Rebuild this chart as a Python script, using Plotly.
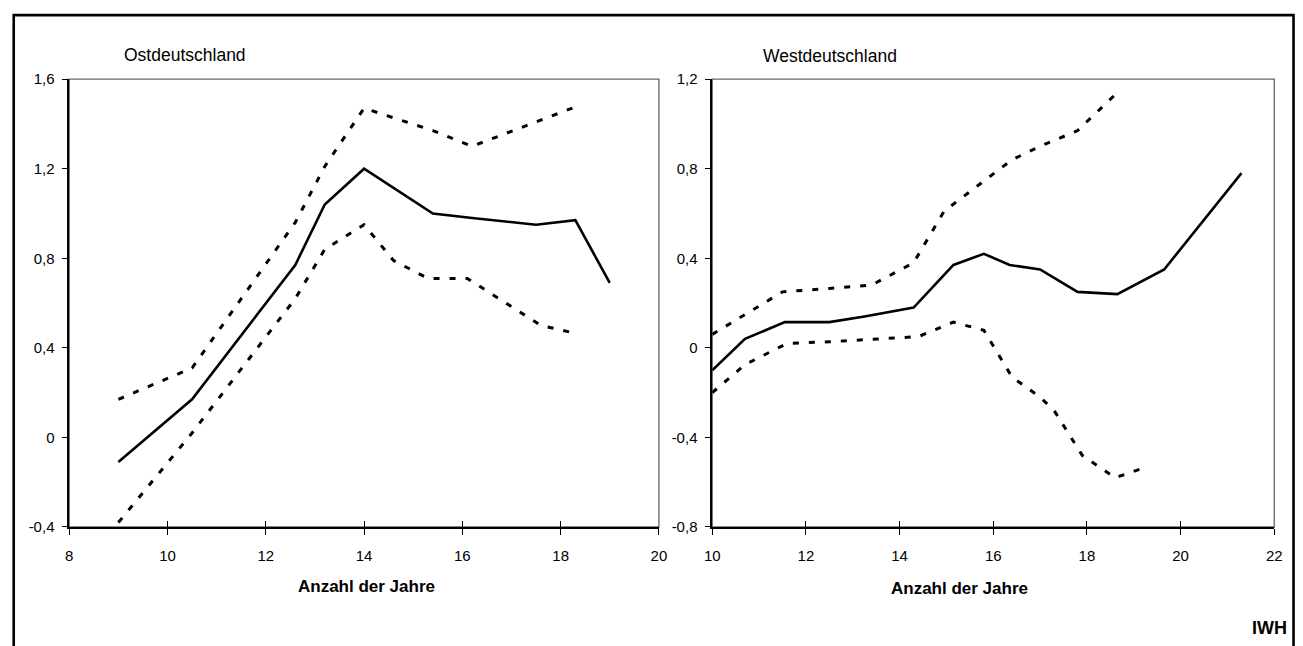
import plotly.graph_objects as go

# ---------------- data ----------------
east_x = [9, 10.5, 12.6, 13.2, 14, 15.4, 16.2, 17.5, 18.3, 19]
east_mid = [-0.11, 0.17, 0.77, 1.04, 1.20, 1.00, 0.98, 0.95, 0.97, 0.69]
east_up_x = [9, 10.5, 12.6, 13.2, 14, 15.4, 16.2, 17.5, 18.35]
east_up = [0.17, 0.31, 0.96, 1.21, 1.47, 1.37, 1.30, 1.41, 1.48]
east_lo_x = [9, 10.5, 12.6, 13.2, 14, 14.6, 15.3, 16.1, 17.6, 18.3]
east_lo = [-0.38, 0.02, 0.62, 0.84, 0.95, 0.79, 0.71, 0.71, 0.50, 0.465]

west_x = [10, 10.7, 11.55, 12.5, 13.25, 14.3, 15.15, 15.8, 16.35, 17.0, 17.8, 18.65, 19.65, 21.3]
west_mid = [-0.10, 0.04, 0.115, 0.115, 0.14, 0.18, 0.37, 0.42, 0.37, 0.35, 0.25, 0.24, 0.35, 0.78]
west_up_x = [10, 10.7, 11.5, 12.5, 13.4, 14.3, 14.95, 15.8, 16.4, 17.0, 17.8, 18.7]
west_up = [0.06, 0.15, 0.25, 0.265, 0.28, 0.38, 0.61, 0.745, 0.84, 0.90, 0.97, 1.15]
west_lo_x = [10, 10.7, 11.6, 12.5, 13.4, 14.4, 15.15, 15.8, 16.4, 17.0, 17.3, 17.9, 18.6, 19.3]
west_lo = [-0.20, -0.075, 0.02, 0.027, 0.038, 0.05, 0.115, 0.078, -0.13, -0.22, -0.28, -0.48, -0.58, -0.53]

east_yticks = [-0.4, 0, 0.4, 0.8, 1.2, 1.6]
east_ylabels = ["-0,4", "0", "0,4", "0,8", "1,2", "1,6"]
west_yticks = [-0.8, -0.4, 0, 0.4, 0.8, 1.2]
west_ylabels = ["-0,8", "-0,4", "0", "0,4", "0,8", "1,2"]

title_east = "Ostdeutschland"
title_west = "Westdeutschland"
xtitle = "Anzahl der Jahre"
source = "IWH"

# ---------------- figure ----------------
W, H = 1303, 646
FONT = "Liberation Sans, Arial, sans-serif"

def px(v):
    return v / W

def py(v):
    return 1 - v / H

solid = dict(color="black", width=2.6)
dashed = dict(color="black", width=3, dash="6px,10px")

fig = go.Figure()
fig.add_trace(go.Scatter(x=east_up_x, y=east_up, mode="lines", line=dashed, xaxis="x", yaxis="y"))
fig.add_trace(go.Scatter(x=east_lo_x, y=east_lo, mode="lines", line=dashed, xaxis="x", yaxis="y"))
fig.add_trace(go.Scatter(x=east_x, y=east_mid, mode="lines", line=solid, xaxis="x", yaxis="y"))
fig.add_trace(go.Scatter(x=west_up_x, y=west_up, mode="lines", line=dashed, xaxis="x2", yaxis="y2"))
fig.add_trace(go.Scatter(x=west_lo_x, y=west_lo, mode="lines", line=dashed, xaxis="x2", yaxis="y2"))
fig.add_trace(go.Scatter(x=west_x, y=west_mid, mode="lines", line=solid, xaxis="x2", yaxis="y2"))
# invisible traces to carry the inside-tick overlay axes
fig.add_trace(go.Scatter(x=east_x, y=east_mid, mode="lines", opacity=0, xaxis="x3", yaxis="y", hoverinfo="skip"))
fig.add_trace(go.Scatter(x=west_x, y=west_mid, mode="lines", opacity=0, xaxis="x4", yaxis="y2", hoverinfo="skip"))

dom_l = [px(62), px(659)]
dom_r = [px(713), px(1282)]
dom_y = [py(532), py(72)]

tickfont = dict(family=FONT, size=15, color="black")
xbase = dict(showgrid=False, zeroline=False, showline=True, linecolor="black", linewidth=1.5,
             ticks="outside", ticklen=6, tickwidth=1.2, tickcolor="black", dtick=2,
             tickfont=tickfont, fixedrange=True, ticklabelstandoff=8)
ybase = dict(showgrid=False, zeroline=False, showline=True, linecolor="black", linewidth=1.5,
             ticks="outside", ticklen=5, tickwidth=1.2, tickcolor="black", tickmode="array",
             tickfont=tickfont, fixedrange=True, ticklabelstandoff=5)
xin = dict(showgrid=False, zeroline=False, showline=False, ticks="inside", ticklen=6,
           tickwidth=1.2, tickcolor="black", dtick=2, showticklabels=False, fixedrange=True)

fig.update_layout(
    width=W, height=H,
    margin=dict(l=0, r=0, t=0, b=0),
    paper_bgcolor="white", plot_bgcolor="white",
    showlegend=False,
    xaxis=dict(xbase, domain=dom_l, range=[8, 20], anchor="y"),
    yaxis=dict(ybase, domain=dom_y, range=[-0.4, 1.6], anchor="x",
               tickvals=east_yticks, ticktext=east_ylabels),
    xaxis2=dict(xbase, domain=dom_r, range=[10, 22], anchor="y2"),
    yaxis2=dict(ybase, domain=dom_y, range=[-0.8, 1.2], anchor="x2",
                tickvals=west_yticks, ticktext=west_ylabels),
    xaxis3=dict(xin, overlaying="x", matches="x", range=[8, 20], anchor="y"),
    xaxis4=dict(xin, overlaying="x2", matches="x2", range=[10, 22], anchor="y2"),
)

# grey plot-area borders (top/right)
for xr, yr in (("x", "y"), ("x2", "y2")):
    fig.add_shape(type="rect", xref=f"{xr} domain", yref=f"{yr} domain",
                  x0=0, x1=1, y0=0, y1=1, line=dict(color="#666666", width=1.3), layer="below")

# outer frame
fig.add_shape(type="rect", xref="paper", yref="paper",
              x0=px(5.8), x1=px(1301.5), y0=-0.05, y1=py(6.3),
              line=dict(color="black", width=2.6))

ann = [
    dict(text=title_east, x=px(115), y=py(47), xanchor="left", yanchor="middle",
         font=dict(family=FONT, size=17.5, color="black")),
    dict(text=title_west, x=px(762), y=py(48), xanchor="left", yanchor="middle",
         font=dict(family=FONT, size=17.5, color="black")),
    dict(text=f"<b>{xtitle}</b>", x=px(363), y=py(593), xanchor="center", yanchor="middle",
         font=dict(family=FONT, size=17, color="black")),
    dict(text=f"<b>{xtitle}</b>", x=px(963), y=py(595), xanchor="center", yanchor="middle",
         font=dict(family=FONT, size=17, color="black")),
    dict(text=f"<b>{source}</b>", x=px(1297), y=py(636), xanchor="right", yanchor="middle",
         font=dict(family=FONT, size=18, color="black")),
]
for a in ann:
    fig.add_annotation(xref="paper", yref="paper", showarrow=False, **a)

fig.write_html("out.html")
